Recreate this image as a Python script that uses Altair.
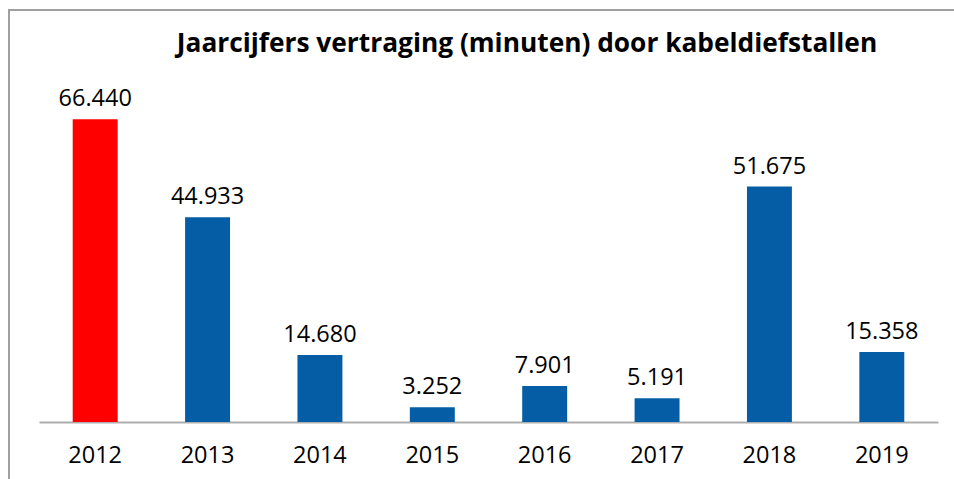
import altair as alt
import pandas as pd

years = ["2012", "2013", "2014", "2015", "2016", "2017", "2018", "2019"]
values = [66440, 44933, 14680, 3252, 7901, 5191, 51675, 15358]
colors = ["#FF0000", "#055EA5", "#055EA5", "#055EA5", "#055EA5", "#055EA5", "#055EA5", "#055EA5"]
title_text = "Jaarcijfers vertraging (minuten) door kabeldiefstallen"

df = pd.DataFrame({"year": years, "value": values, "color": colors})
title_df = pd.DataFrame({"t": [title_text]})

FONT = "Open Sans"

base = alt.Chart(df).transform_calculate(
    label="replace(format(datum.value, ','), /,/g, '.')"
)

x = alt.X("year:N", sort=years, title=None,
          scale=alt.Scale(paddingInner=0.6, paddingOuter=0.3),
          axis=alt.Axis(labelAngle=0, ticks=False, labelPadding=21,
                        domainColor="#ADADAD", domainWidth=2,
                        labelFont=FONT, labelFontSize=23.5, labelColor="#000000"))
y = alt.Y("value:Q", title=None, scale=alt.Scale(domain=[0, 70000]), axis=None)

bars = base.mark_bar().encode(x=x, y=y, color=alt.Color("color:N", scale=None))
labels = base.mark_text(dy=-13, baseline="alphabetic", font=FONT, fontSize=23.5, color="#000000").encode(
    x=x, y=y, text="label:N")

border = alt.Chart(df).mark_rect(fill=None, stroke="#A0A0A0", strokeWidth=1.5).encode(
    x=alt.value(-30), x2=alt.value(1000), y=alt.value(-93), y2=alt.value(500))

title = alt.Chart(title_df).mark_text(font=FONT, fontSize=26.3, fontWeight="bold", color="#000000",
                                      align="center", baseline="alphabetic").encode(
    x=alt.value(488), y=alt.value(-51), text="t:N")

chart = alt.layer(border, bars, labels, title).properties(
    width=899, height=319,
    background="white",
    autosize=alt.AutoSizeParams(type="none"),
    padding={"left": 39, "top": 103, "right": 16, "bottom": 57},
).configure_view(stroke=None)

chart.save("out.html", embed_options={"renderer": "svg", "actions": False})
